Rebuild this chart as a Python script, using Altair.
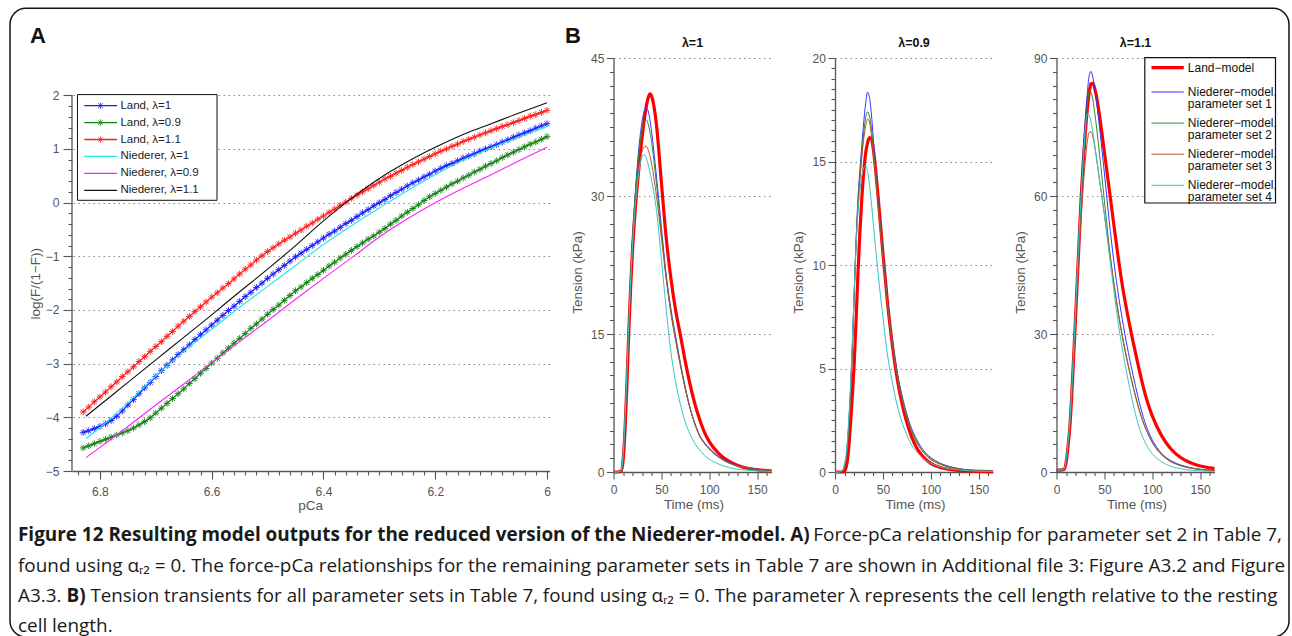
import altair as alt
import pandas as pd

FONT = "Liberation Sans"
CAPFONT = "Open Sans"

# ------------------------------------------------------------------ data: panel A
PCA_LAND = [round(6.83 - 0.01 * i, 2) for i in range(84)]
LAND_L1 = [-4.28, -4.25, -4.21, -4.17, -4.12, -4.06, -3.98, -3.88, -3.77, -3.67,
           -3.56, -3.45, -3.35, -3.24, -3.13, -3.03, -2.93, -2.83, -2.74, -2.65,
           -2.55, -2.46, -2.37, -2.28, -2.19, -2.10, -2.01, -1.93, -1.84, -1.75,
           -1.67, -1.58, -1.50, -1.41, -1.33, -1.25, -1.17, -1.09, -1.01, -0.94,
           -0.87, -0.80, -0.73, -0.66, -0.59, -0.53, -0.46, -0.39, -0.33, -0.26,
           -0.19, -0.13, -0.06, 0.00, 0.06, 0.13, 0.19, 0.25, 0.31, 0.37,
           0.42, 0.48, 0.53, 0.59, 0.64, 0.69, 0.73, 0.78, 0.83, 0.87,
           0.91, 0.96, 1.00, 1.04, 1.08, 1.13, 1.17, 1.22, 1.26, 1.30,
           1.34, 1.39, 1.43, 1.47]
LAND_L09 = [-4.57, -4.53, -4.49, -4.45, -4.41, -4.37, -4.33, -4.29, -4.25, -4.20,
            -4.14, -4.08, -4.01, -3.92, -3.83, -3.74, -3.65, -3.56, -3.47, -3.37,
            -3.28, -3.18, -3.09, -2.99, -2.90, -2.80, -2.71, -2.62, -2.53, -2.44,
            -2.34, -2.26, -2.17, -2.08, -1.99, -1.91, -1.82, -1.73, -1.64, -1.57,
            -1.49, -1.41, -1.34, -1.26, -1.18, -1.11, -1.03, -0.96, -0.89, -0.82,
            -0.75, -0.68, -0.62, -0.55, -0.48, -0.40, -0.33, -0.25, -0.18, -0.11,
            -0.04, 0.04, 0.11, 0.17, 0.23, 0.29, 0.35, 0.40, 0.46, 0.51,
            0.57, 0.62, 0.68, 0.73, 0.78, 0.84, 0.89, 0.94, 0.99, 1.04,
            1.09, 1.13, 1.18, 1.23]
LAND_L11 = [-3.90, -3.81, -3.71, -3.62, -3.53, -3.43, -3.34, -3.24, -3.15, -3.06,
            -2.96, -2.87, -2.77, -2.68, -2.59, -2.49, -2.40, -2.30, -2.21, -2.12,
            -2.03, -1.94, -1.85, -1.76, -1.68, -1.59, -1.51, -1.42, -1.33, -1.24,
            -1.16, -1.07, -0.99, -0.91, -0.84, -0.77, -0.70, -0.64, -0.57, -0.51,
            -0.44, -0.38, -0.31, -0.25, -0.18, -0.12, -0.05, 0.01, 0.08, 0.14,
            0.20, 0.26, 0.32, 0.38, 0.44, 0.49, 0.55, 0.60, 0.66, 0.71,
            0.76, 0.81, 0.86, 0.91, 0.96, 1.00, 1.05, 1.09, 1.14, 1.18,
            1.22, 1.26, 1.30, 1.34, 1.38, 1.42, 1.45, 1.49, 1.53, 1.57,
            1.61, 1.64, 1.68, 1.72]
PCA_NIED = [6.825, 6.80, 6.75, 6.70, 6.65, 6.60, 6.55, 6.50, 6.45, 6.40,
            6.35, 6.30, 6.25, 6.20, 6.15, 6.10, 6.05, 6.00]
NIED_L1 = [-4.40, -4.19, -3.73, -3.23, -2.77, -2.36, -1.95, -1.56, -1.17, -0.78,
           -0.43, -0.10, 0.22, 0.52, 0.79, 1.02, 1.22, 1.42]
NIED_L09 = [-4.75, -4.56, -4.17, -3.77, -3.38, -2.98, -2.59, -2.20, -1.80, -1.41,
            -1.03, -0.64, -0.30, 0.00, 0.27, 0.52, 0.78, 1.03]
NIED_L11 = [-3.98, -3.77, -3.35, -2.93, -2.51, -2.09, -1.66, -1.24, -0.80, -0.34,
            0.08, 0.45, 0.76, 1.03, 1.27, 1.47, 1.67, 1.86]
A_LAND_NAMES = ["Land, λ=1", "Land, λ=0.9", "Land, λ=1.1"]
A_NIED_NAMES = ["Niederer, λ=1", "Niederer, λ=0.9", "Niederer, λ=1.1"]
A_AXIS_SPAN = [-5, 2]          # extent of panel A's drawn y axis line

# ------------------------------------------------------------------ data: panel B
TIME = [0, 4, 8, 10, 12, 14, 16, 18, 20, 22, 24, 26, 28, 30, 32, 34, 36, 38, 40, 42,
        45, 50, 55, 60, 65, 70, 75, 80, 85, 90, 95, 100, 110, 120, 130, 140, 150, 160, 165]
B1_LAND = [0, 0, 0.1, 1.2, 4.5, 9.5, 15.3, 20.3, 24.4, 27.6, 30.2, 32.5, 34.6, 36.5, 38.2, 39.6, 40.6, 41.1, 40.8, 39.9,
           37.6, 31.5, 25.5, 21.0, 17.5, 14.8, 12.0, 9.5, 7.4, 5.7, 4.3, 3.3, 2.0, 1.2, 0.7, 0.4, 0.25, 0.15, 0.12]
B1_SET1 = [0, 0, 0.1, 1.6, 5.5, 10.5, 16.0, 21.2, 25.6, 29.2, 32.2, 34.7, 36.7, 38.2, 39.2, 39.6, 39.3, 38.3, 36.8, 35.0,
           32.0, 26.6, 21.5, 17.7, 14.7, 11.8, 9.2, 7.0, 5.3, 4.0, 3.2, 2.6, 1.7, 1.1, 0.7, 0.45, 0.3, 0.2, 0.15]
B1_SET2 = [0, 0, 0.1, 1.6, 5.5, 10.5, 16.0, 21.1, 25.4, 28.9, 31.8, 34.1, 36.0, 37.3, 38.1, 38.3, 37.9, 37.0, 35.7, 34.0,
           31.2, 26.0, 21.2, 17.4, 14.4, 11.6, 9.0, 6.9, 5.2, 3.9, 3.1, 2.5, 1.6, 1.0, 0.65, 0.42, 0.28, 0.18, 0.14]
B1_SET3 = [0, 0, 0.1, 1.6, 5.4, 10.3, 15.6, 20.5, 24.6, 27.9, 30.5, 32.5, 34.0, 34.9, 35.3, 35.4, 35.1, 34.4, 33.4, 32.1,
           29.9, 25.5, 21.0, 17.2, 14.2, 11.5, 9.0, 6.9, 5.2, 3.9, 3.1, 2.5, 1.6, 1.0, 0.65, 0.42, 0.28, 0.18, 0.14]
B1_SET4 = [0, 0, 0.15, 1.8, 5.8, 10.8, 16.2, 21.0, 24.9, 28.0, 30.5, 32.3, 33.6, 34.3, 34.5, 34.2, 33.5, 32.6, 31.6, 30.5,
           28.3, 23.2, 17.7, 13.0, 9.7, 7.3, 5.4, 4.1, 3.1, 2.4, 1.8, 1.4, 0.85, 0.5, 0.3, 0.2, 0.12, 0.08, 0.07]
B2_LAND = [0, 0, 0, 0.05, 0.3, 1.0, 2.2, 3.6, 5.2, 7.3, 9.6, 11.6, 13.2, 14.5, 15.4, 15.9, 16.15, 16.1, 15.6, 14.8,
           13.3, 10.6, 8.1, 6.1, 4.5, 3.3, 2.4, 1.7, 1.2, 0.85, 0.6, 0.42, 0.22, 0.12, 0.07, 0.04, 0.03, 0.02, 0.02]
B2_SET1 = [0, 0, 0.05, 0.3, 0.8, 2.0, 3.7, 5.9, 8.6, 11.2, 13.2, 14.6, 15.8, 16.9, 17.8, 18.35, 18.1, 17.3, 16.1, 14.9,
           13.1, 10.7, 8.2, 6.3, 4.8, 3.7, 2.8, 2.1, 1.6, 1.2, 0.9, 0.7, 0.42, 0.26, 0.16, 0.1, 0.07, 0.05, 0.04]
B2_SET2 = [0, 0, 0.05, 0.3, 0.8, 2.0, 3.7, 5.9, 8.6, 11.1, 13.0, 14.3, 15.4, 16.4, 17.1, 17.4, 17.2, 16.6, 15.7, 14.7,
           13.0, 10.6, 8.1, 6.2, 4.7, 3.6, 2.7, 2.0, 1.5, 1.1, 0.85, 0.65, 0.4, 0.24, 0.15, 0.1, 0.06, 0.05, 0.04]
B2_SET3 = [0, 0, 0.05, 0.3, 0.8, 2.0, 3.6, 5.8, 8.4, 10.9, 12.8, 14.1, 15.2, 16.1, 16.7, 17.05, 16.9, 16.3, 15.5, 14.5,
           12.9, 10.4, 8.0, 6.1, 4.6, 3.5, 2.6, 1.95, 1.45, 1.1, 0.8, 0.6, 0.37, 0.22, 0.14, 0.09, 0.06, 0.04, 0.03]
B2_SET4 = [0, 0, 0.1, 0.4, 1.0, 2.3, 4.0, 6.2, 8.7, 10.9, 12.5, 13.6, 14.3, 14.7, 14.8, 14.5, 13.9, 13.0, 12.0, 11.0,
           9.6, 7.5, 5.6, 4.3, 3.2, 2.4, 1.8, 1.3, 1.0, 0.75, 0.55, 0.42, 0.25, 0.15, 0.1, 0.06, 0.04, 0.03, 0.03]
B3_LAND = [0.4, 0.4, 0.6, 2.0, 5.5, 10.0, 17.0, 25.5, 34.0, 43.0, 52.0, 60.5, 67.5, 73.5, 78.5, 82.3, 84.4, 84.5, 83.3, 81.4,
           77.4, 69.6, 61.6, 53.6, 45.8, 39.0, 33.4, 28.3, 23.5, 19.0, 15.2, 12.2, 7.8, 4.9, 3.1, 2.0, 1.3, 0.9, 0.75]
B3_SET1 = [0.4, 0.4, 0.6, 2.5, 6.0, 10.5, 17.5, 26.0, 35.0, 44.5, 54.0, 62.5, 70.0, 76.5, 82.0, 86.0, 87.1, 85.8, 83.3, 80.2,
           74.8, 65.0, 54.7, 45.6, 38.0, 31.6, 26.0, 21.0, 16.4, 12.4, 9.3, 7.0, 4.0, 2.4, 1.5, 0.95, 0.6, 0.4, 0.33]
B3_SET2 = [0.4, 0.4, 0.6, 2.5, 6.0, 10.5, 17.5, 26.0, 35.0, 44.3, 53.3, 61.3, 68.3, 74.3, 79.3, 82.9, 82.6, 80.8, 78.0, 74.6,
           69.0, 59.0, 49.2, 40.8, 33.8, 28.0, 23.0, 18.5, 14.5, 11.1, 8.5, 6.4, 3.7, 2.2, 1.35, 0.85, 0.55, 0.38, 0.32]
B3_SET3 = [0.4, 0.4, 0.6, 2.3, 5.6, 10.0, 16.6, 24.6, 33.0, 41.5, 49.5, 56.5, 62.5, 67.5, 71.5, 73.8, 74.0, 72.8, 70.6, 67.9,
           63.3, 56.0, 48.3, 41.0, 34.2, 28.3, 23.2, 18.6, 14.6, 11.2, 8.6, 6.5, 3.8, 2.2, 1.35, 0.85, 0.55, 0.38, 0.32]
B3_SET4 = [0.4, 0.4, 0.7, 2.8, 6.5, 11.5, 18.5, 27.0, 36.0, 45.0, 53.5, 61.0, 68.0, 74.3, 77.8, 77.6, 76.1, 73.8, 71.0, 68.0,
           63.5, 56.0, 47.5, 39.3, 31.6, 25.3, 19.8, 14.8, 10.6, 7.6, 5.5, 4.0, 2.2, 1.2, 0.7, 0.4, 0.25, 0.15, 0.12]
B_TITLES = ["λ=1", "λ=0.9", "λ=1.1"]
B_NAMES = ["Land−model", "Niederer−model,\nparameter set 1", "Niederer−model,\nparameter set 2",
           "Niederer−model,\nparameter set 3", "Niederer−model,\nparameter set 4"]
B_YMAX = [45, 20, 90]
B_YMAJOR = [15, 5, 30]

CAP1_BOLD = "Figure 12 Resulting model outputs for the reduced version of the Niederer-model. A)"
CAP1_REST = "Force-pCa relationship for parameter set 2 in Table 7,"
CAP2 = ("found using αᵣ₂ = 0. The force-pCa relationships for the remaining parameter sets in Table 7 "
        "are shown in Additional file 3: Figure A3.2 and Figure")
CAP3_A = "A3.3."
CAP3_BOLD = "B)"
CAP3_REST = ("Tension transients for all parameter sets in Table 7, found using αᵣ₂ = 0. "
             "The parameter λ represents the cell length relative to the resting")
CAP4 = "cell length."

# ------------------------------------------------------------------ styles
A_LAND_COLORS = ["#1c1cff", "#138013", "#ff1c1c"]
A_NIED_COLORS = ["#22e8e8", "#ff22ff", "#111111"]
B_COLORS = ["#ff0000", "#3434ff", "#2e8b2e", "#b4502e", "#34c6c6"]
B_WIDTHS = [3.2, 1, 1, 1, 1]
ASTER = "M-1,0L1,0M0,-1L0,1M-0.72,-0.72L0.72,0.72M-0.72,0.72L0.72,-0.72"

A_W, A_H = 477.5, 413          # panel A plot box (top part above y=2 is empty)
A_TOP = 2.695                  # y value at the top edge of panel A's box
B_W, B_H = 158, 414
OY = 37.3                      # offset of panel A's y=2 line below the common top

ONE = pd.DataFrame({"k": [0]})


def is_major(step):
    return f"abs(datum.value / {step} - round(datum.value / {step})) < 1e-6"


def make_axis(values, step, title, fmt, orient, major_len, minor_len, grid, lab_pad,
              title_x, title_y, domain=True):
    t = is_major(step)
    kw = dict(
        values=values,
        labelExpr=f"{t} ? format(datum.value, '{fmt}') : ''",
        tickSize={"condition": {"test": t, "value": major_len}, "value": minor_len},
        labelPadding=lab_pad,
        title=title,
        titleX=title_x,
        titleY=title_y,
        titleAlign="center",
        titleBaseline="middle",
        labelOverlap=False,
        labelFlush=False,
        orient=orient,
        domain=domain,
    )
    if grid:
        kw["grid"] = True
        kw["gridOpacity"] = {"condition": {"test": t, "value": 1}, "value": 0}
    else:
        kw["grid"] = False
    if orient == "left":
        kw["titleAngle"] = 270
    return alt.Axis(**kw)


# ------------------------------------------------------------------ panel A
XT_A = [round(6.84 - 0.02 * i, 2) for i in range(43)]
YT_A = [round(-5 + 0.2 * i, 1) for i in range(36)]
XS_A = alt.Scale(domain=[5.9955, 6.85], reverse=True, nice=False, zero=False)
YS_A = alt.Scale(domain=[-5, A_TOP], nice=False, zero=False)
AX_XA = make_axis(XT_A, 0.2, "pCa", "~g", "bottom", 8, 4, False, 7, 238, 34.5)
AX_YA = make_axis(YT_A, 1, "log(F/(1−F))", "d", "left", 9, 4, True, 4, -36.3, 188 + OY, domain=False)


def enc_a(ch, yfield="v:Q"):
    return ch.encode(x=alt.X("pCa:Q", scale=XS_A, axis=AX_XA),
                     y=alt.Y(yfield, scale=YS_A, axis=AX_YA))


layers_a = []
# figure frame, drawn relative to panel A's plot origin
layers_a.append(alt.Chart(ONE).mark_rect(fillOpacity=0, stroke="#111", strokeWidth=1.5, cornerRadius=16)
                .encode(x=alt.value(-62), x2=alt.value(1217), y=alt.value(-49.7), y2=alt.value(579)))
# y axis line of panel A (from -5 to 2 only)
span_df = pd.DataFrame({"y0": [A_AXIS_SPAN[0]], "y1": [A_AXIS_SPAN[1]]})
layers_a.append(alt.Chart(span_df).mark_rule(color="#555", strokeWidth=1.3)
                .encode(x=alt.value(0), y=alt.Y("y0:Q", scale=YS_A, axis=AX_YA), y2="y1:Q"))
for name, vals, col in zip(A_LAND_NAMES, [LAND_L1, LAND_L09, LAND_L11], A_LAND_COLORS):
    df = pd.DataFrame({"pCa": PCA_LAND, "v": vals})
    layers_a.append(enc_a(alt.Chart(df).mark_line(color=col, strokeWidth=1.3)))
    layers_a.append(enc_a(alt.Chart(df).mark_point(shape=ASTER, size=45, color=col, filled=False,
                                                   strokeWidth=1, opacity=0.9)))
for name, vals, col in zip(A_NIED_NAMES, [NIED_L1, NIED_L09, NIED_L11], A_NIED_COLORS):
    df = pd.DataFrame({"pCa": PCA_NIED, "v": vals})
    layers_a.append(enc_a(alt.Chart(df).mark_line(color=col, strokeWidth=1.1, interpolate="monotone")))

# legend of panel A
leg_a = pd.DataFrame({"label": A_LAND_NAMES + A_NIED_NAMES,
                      "color": A_LAND_COLORS + A_NIED_COLORS,
                      "land": [1, 1, 1, 0, 0, 0]})
leg_a["ly"] = [OY + 10.3 + 16.95 * i for i in range(len(leg_a))]
layers_a.append(alt.Chart(ONE).mark_rect(fill="white", stroke="#111", strokeWidth=1)
                .encode(x=alt.value(5.5), x2=alt.value(145), y=alt.value(OY - 0.7), y2=alt.value(OY + 105)))
ly_a = alt.Y("ly:Q", scale=None, axis=None)
layers_a.append(alt.Chart(leg_a).mark_rule(strokeWidth=1.3)
                .encode(x=alt.value(12.3), x2=alt.value(45.1), y=ly_a, color=alt.Color("color:N", scale=None)))
layers_a.append(alt.Chart(leg_a).transform_filter("datum.land == 1")
                .mark_point(shape=ASTER, size=45, filled=False, strokeWidth=1)
                .encode(x=alt.value(28.5), y=ly_a, color=alt.Color("color:N", scale=None)))
layers_a.append(alt.Chart(leg_a).mark_text(align="left", baseline="middle", font=FONT, fontSize=11.5, color="#222")
                .encode(x=alt.value(48.4), y=ly_a, text="label:N"))

# panel letters
for letter, lx in [("A", -42), ("B", 493)]:
    layers_a.append(alt.Chart(ONE).mark_text(text=letter, font=FONT, fontSize=22, fontWeight="bold",
                                             align="left", baseline="alphabetic", color="#111")
                    .encode(x=alt.value(lx), y=alt.value(-14.7)))

# caption
CAP_FS = 18.9
cap_items = [
    (CAP1_BOLD, -54, 482.8, "bold", "left", CAP_FS),
    (CAP1_REST, 1210, 482.8, "normal", "right", CAP_FS),
    (CAP2, -54, 513.8, "normal", "left", CAP_FS),
    (CAP3_A, -54, 544.3, "normal", "left", CAP_FS),
    (CAP3_BOLD, -5.5, 544.3, "bold", "left", CAP_FS),
    (CAP3_REST, 18.4, 544.3, "normal", "left", 18.75),
    (CAP4, -54, 574.3, "normal", "left", CAP_FS),
]
for txt, cx, cy, fw, al, fs in cap_items:
    layers_a.append(alt.Chart(ONE).mark_text(text=txt, font=CAPFONT, fontSize=fs, fontWeight=fw,
                                             align=al, baseline="alphabetic", color="#1a1a1a")
                    .encode(x=alt.value(cx), y=alt.value(cy)))

panel_a = alt.layer(*layers_a).properties(width=A_W, height=A_H)

# ------------------------------------------------------------------ panel B
B_DATA = [[B1_LAND, B1_SET1, B1_SET2, B1_SET3, B1_SET4],
          [B2_LAND, B2_SET1, B2_SET2, B2_SET3, B2_SET4],
          [B3_LAND, B3_SET1, B3_SET2, B3_SET3, B3_SET4]]
XT_B = [10 * i for i in range(17)]


def panel_b(k):
    ymax, maj = B_YMAX[k], B_YMAJOR[k]
    minor = maj / 10
    yvals = [round(i * minor, 3) for i in range(int(round(ymax / minor)) + 1)]
    xs = alt.Scale(domain=[0, 165], nice=False, zero=False)
    ys = alt.Scale(domain=[0, ymax], nice=False, zero=False)
    ax_x = make_axis(XT_B, 50, "Time (ms)", "d", "bottom", 7, 3.5, False, 5, 80, 32)
    ax_y = make_axis(yvals, maj, "Tension (kPa)", "d", "left", 7, 4, True, 2.6, -36.3, 214)
    layers = []
    for vals, col, w in zip(B_DATA[k], B_COLORS, B_WIDTHS):
        df = pd.DataFrame({"t": TIME, "v": vals})
        layers.append(alt.Chart(df).mark_line(color=col, strokeWidth=w, interpolate="monotone")
                      .encode(x=alt.X("t:Q", scale=xs, axis=ax_x), y=alt.Y("v:Q", scale=ys, axis=ax_y)))
    layers.append(alt.Chart(ONE).mark_text(text=B_TITLES[k], font=FONT, fontSize=12.5, fontWeight="bold",
                                           align="center", baseline="middle", color="#111")
                  .encode(x=alt.value(B_W / 2), y=alt.value(-14.7)))
    if k == 2:
        leg = pd.DataFrame({"label": B_NAMES, "color": B_COLORS, "w": B_WIDTHS})
        leg["ly"] = [9.6] + [34 + 31.1 * i for i in range(4)]
        ly = alt.Y("ly:Q", scale=None, axis=None)
        layers.append(alt.Chart(ONE).mark_rect(fill="white", stroke="#111", strokeWidth=1.2)
                      .encode(x=alt.value(88.3), x2=alt.value(219), y=alt.value(-0.4), y2=alt.value(145)))
        layers.append(alt.Chart(leg).mark_rule()
                      .encode(x=alt.value(95), x2=alt.value(127.3), y=ly,
                              color=alt.Color("color:N", scale=None),
                              strokeWidth=alt.StrokeWidth("w:Q", scale=None)))
        layers.append(alt.Chart(leg).mark_text(align="left", baseline="middle", font=FONT, fontSize=12,
                                               lineBreak="\n", lineHeight=11.7, color="#111")
                      .encode(x=alt.value(131.3), y=ly, text="label:N"))
    return alt.layer(*layers).properties(width=B_W, height=B_H)


chart = (
    alt.hconcat(panel_a, panel_b(0), panel_b(1), panel_b(2), spacing=63.5, bounds="flush")
    .properties(padding={"left": 9, "top": 7, "right": 0, "bottom": 0})
    .configure_view(strokeWidth=0)
    .configure_axis(
        domainColor="#555", domainWidth=1.3, tickColor="#555", tickWidth=1.1,
        labelColor="#555", labelFont=FONT, labelFontSize=12,
        titleFont=FONT, titleFontSize=13.5, titleFontWeight="normal", titleColor="#555",
        gridColor="#888", gridDash=[1.5, 3.5], gridWidth=1,
    )
)

chart.save("out.html", embed_options={"renderer": "svg", "actions": False})
